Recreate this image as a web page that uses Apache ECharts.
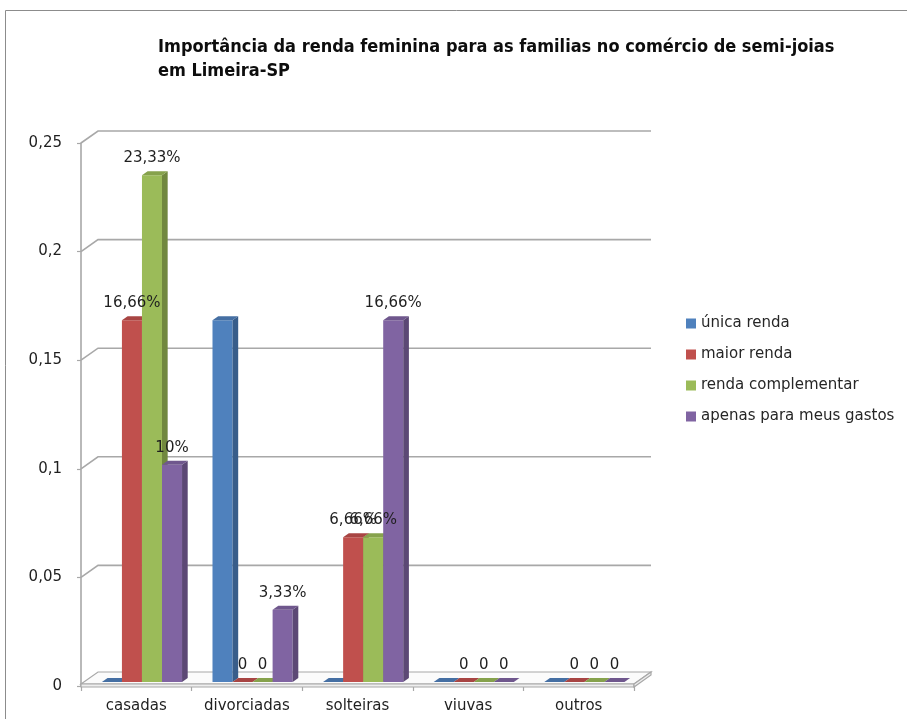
<!DOCTYPE html>
<html>
<head>
<meta charset="utf-8">
<script src="https://cdn.jsdelivr.net/npm/echarts@6/dist/echarts.min.js"></script>
<style>
  html, body { margin: 0; padding: 0; background: #ffffff; }
  #chart { width: 907px; height: 719px; }
</style>
</head>
<body>
<div id="chart"></div>
<script>
// Categories and the share of respondents in each income role
const categories = ['casadas', 'divorciadas', 'solteiras', 'viuvas', 'outros'];
const seriesNames = ['única renda', 'maior renda', 'renda complementar', 'apenas para meus gastos'];
const unicaRenda = [0, 0.1666, 0, 0, 0];
const maiorRenda = [0.1666, 0, 0.0666, 0, 0];
const rendaComplementar = [0.2333, 0, 0.0666, 0, 0];
const apenasGastos = [0.1, 0.0333, 0.1666, 0, 0];
const yTicks = [0, 0.05, 0.1, 0.15, 0.2, 0.25];

const seriesValues = [unicaRenda, maiorRenda, rendaComplementar, apenasGastos];
const labelled = [false, true, true, true];

// face colours: front, side, top
const palette = [
  { front: '#4F81BD', side: '#385D8A', top: '#456FA3' },
  { front: '#C0504D', side: '#8C3A38', top: '#A84543' },
  { front: '#9BBB59', side: '#71883F', top: '#86A24C' },
  { front: '#8064A2', side: '#5C4875', top: '#6F578D' }
];

// 3D look: offset from the front plane to the back wall
const DEPTH_X = 17;
const DEPTH_Y = -12;
const BAR_FRAC = 20 / 110.4;
const GRID_COLOR = '#a8a8a8';
const TEXT_FONT = '"DejaVu Sans", Verdana, sans-serif';

function fmtPct(v) {
  if (v === 0) return '0';
  let s = (v * 100).toFixed(2);
  s = s.replace(/\.?0+$/, '');
  return s.replace('.', ',') + '%';
}

// front-face geometry of bar k in category i
function barGeom(api, i, v, k) {
  const base = api.coord([i, 0]);
  const top = api.coord([i, v]);
  const band = api.size([1, 0])[0];
  const w = band * BAR_FRAC;
  const x = base[0] - 2 * w + k * w + DEPTH_X / 3;   // bar front sits a third of the way back
  return { x: x, w: w, y0: base[1] + DEPTH_Y / 3, y1: top[1] + DEPTH_Y / 3 };
}

function barRenderer(k) {
  return function (params, api) {
    const g = barGeom(api, api.value(0), api.value(1), k);
    const dx = DEPTH_X / 3, dy = DEPTH_Y / 3;   // bar depth
    const x = g.x, w = g.w, y0 = g.y0, y1 = g.y1;
    const c = palette[k];
    const children = [];
    if (y0 - y1 > 0.5) {
      children.push({
        type: 'rect',
        shape: { x: x, y: y1, width: w, height: y0 - y1 },
        style: { fill: c.front }
      });
      children.push({
        type: 'polygon',
        shape: { points: [[x + w, y1], [x + w + dx, y1 + dy], [x + w + dx, y0 + dy], [x + w, y0]] },
        style: { fill: c.side }
      });
    }
    children.push({
      type: 'polygon',
      shape: { points: [[x, y1], [x + dx, y1 + dy], [x + w + dx, y1 + dy], [x + w, y1]] },
      style: { fill: c.top }
    });
    return { type: 'group', children: children };
  };
}

// value labels sit above every bar, so they are drawn in their own layer
function labelRenderer(params, api) {
  const i = api.value(0), v = api.value(1), k = api.value(2);
  const g = barGeom(api, i, v, k);
  return {
    type: 'text',
    style: {
      text: fmtPct(v),
      x: g.x + g.w / 2,
      y: g.y1 - 17,
      align: 'center',
      verticalAlign: 'middle',
      fill: '#1f1f1f',
      fontSize: 15,
      fontFamily: TEXT_FONT
    }
  };
}

function wallRenderer(params, api) {
  const v = api.value(1);
  if (v === 0) return null;
  const cs = params.coordSys;
  const xL = cs.x, xR = cs.x + cs.width;
  const y = api.coord([0, v])[1];
  return {
    type: 'polyline',
    shape: { points: [[xL, y], [xL + DEPTH_X, y + DEPTH_Y], [xR + DEPTH_X, y + DEPTH_Y]] },
    style: { stroke: GRID_COLOR, lineWidth: 1.6, fill: null }
  };
}

function floorRenderer(params, api) {
  const cs = params.coordSys;
  const xL = cs.x, xR = cs.x + cs.width;
  const y = api.coord([0, 0])[1];
  const yt = y - 2, yb = y + 1;
  return {
    type: 'group',
    children: [
      {
        type: 'polygon',
        shape: { points: [[xL, yt], [xL + DEPTH_X, yt + DEPTH_Y], [xR + DEPTH_X, yt + DEPTH_Y], [xR, yt]] },
        style: { fill: '#fbfbfb', stroke: GRID_COLOR, lineWidth: 1.2 }
      },
      {
        type: 'polygon',
        shape: { points: [[xL, yt], [xR, yt], [xR, yb], [xL, yb]] },
        style: { fill: '#eeeeee', stroke: GRID_COLOR, lineWidth: 1.2 }
      },
      {
        type: 'polygon',
        shape: { points: [[xR, yt], [xR + DEPTH_X, yt + DEPTH_Y], [xR + DEPTH_X, yb + DEPTH_Y], [xR, yb]] },
        style: { fill: '#eeeeee', stroke: GRID_COLOR, lineWidth: 1.2 }
      }
    ]
  };
}

const series = [
  {
    name: 'walls',
    type: 'custom',
    renderItem: wallRenderer,
    data: yTicks.map(function (t) { return [0, t]; }),
    silent: true,
    z: 1
  },
  {
    name: 'floor',
    type: 'custom',
    renderItem: floorRenderer,
    data: [[0, 0]],
    silent: true,
    z: 2
  }
];

const labelData = [];
seriesNames.forEach(function (name, k) {
  series.push({
    name: name,
    type: 'custom',
    renderItem: barRenderer(k),
    itemStyle: { color: palette[k].front },
    data: seriesValues[k].map(function (v, i) { return [i, v]; }),
    z: 3 + k
  });
  if (labelled[k]) {
    seriesValues[k].forEach(function (v, i) { labelData.push([i, v, k]); });
  }
});

series.push({
  name: 'rótulos',
  type: 'custom',
  renderItem: labelRenderer,
  data: labelData,
  silent: true,
  z: 20
});

const chart = echarts.init(document.getElementById('chart'), null, { renderer: 'canvas' });
chart.setOption({
  animation: false,
  backgroundColor: '#ffffff',
  title: {
    text: 'Importância da renda feminina para as familias no comércio de semi-joias\nem Limeira-SP',
    left: 153,
    top: 30,
    textStyle: {
      fontFamily: '"Liberation Sans Narrow", "DejaVu Sans Condensed", sans-serif',
      fontWeight: 'bold',
      fontSize: 18,
      lineHeight: 24,
      color: '#0d0d0d'
    }
  },
  graphic: [
    {
      type: 'rect',
      shape: { x: 5.5, y: 10.5, width: 960, height: 760 },
      style: { fill: null, stroke: '#8c8c8c', lineWidth: 1 },
      silent: true
    }
  ],
  legend: {
    orient: 'vertical',
    left: 681,
    top: 311,
    itemWidth: 10,
    itemHeight: 10,
    itemGap: 16,
    icon: 'rect',
    data: seriesNames,
    textStyle: { fontSize: 15, fontFamily: TEXT_FONT, color: '#262626', lineHeight: 15 }
  },
  grid: { left: 81, right: 273, top: 143, bottom: 33 },
  xAxis: {
    type: 'category',
    data: categories,
    axisLine: { show: false },
    axisTick: { show: true, length: 5, lineStyle: { color: GRID_COLOR, width: 1.2 } },
    axisLabel: { interval: 0, margin: 13, fontSize: 15, fontFamily: TEXT_FONT, color: '#1f1f1f' },
    splitLine: { show: false }
  },
  yAxis: {
    type: 'value',
    min: 0,
    max: 0.25,
    interval: 0.05,
    axisLine: { show: true, lineStyle: { color: GRID_COLOR, width: 1.6 } },
    axisTick: { show: true, length: 4, lineStyle: { color: GRID_COLOR, width: 1.2 } },
    axisLabel: {
      margin: 19,
      fontSize: 15,
      fontFamily: TEXT_FONT,
      color: '#1f1f1f',
      formatter: function (v) { return String(v).replace('.', ','); }
    },
    splitLine: { show: false }
  },
  series: series
});
</script>
</body>
</html>
